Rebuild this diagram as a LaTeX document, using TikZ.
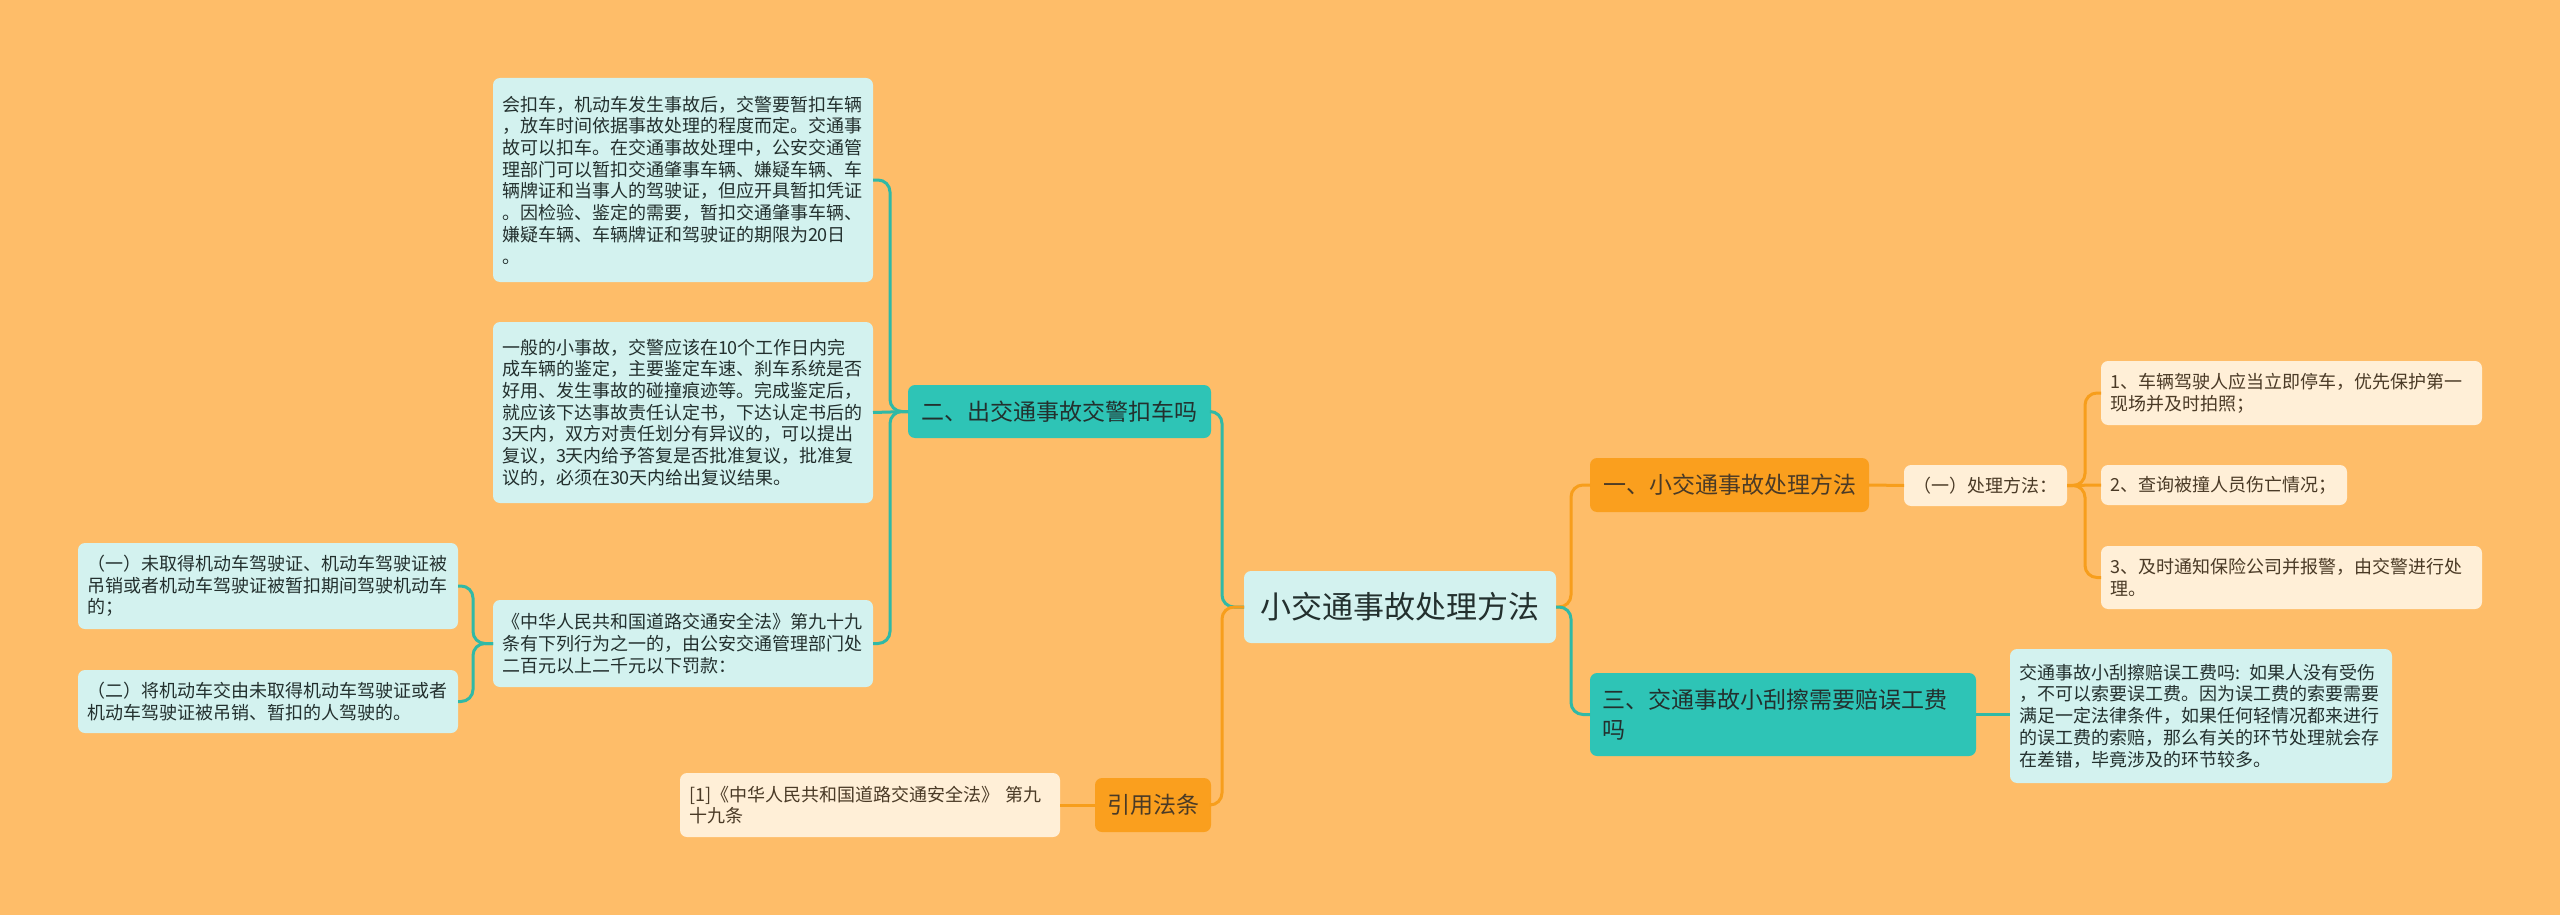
\documentclass[tikz,border=0pt]{standalone}
\usepackage{fontspec}
\setmainfont{Noto Sans CJK SC}
\definecolor{bg}{HTML}{FEBD69}
\definecolor{tealfill}{HTML}{2EC4B6}
\definecolor{orangefill}{HTML}{FA9F1E}
\definecolor{cyanbox}{HTML}{D3F2EF}
\definecolor{creambox}{HTML}{FFEFD7}
\definecolor{tealline}{HTML}{30B9A6}
\definecolor{orangeline}{HTML}{F79E1C}
\definecolor{darktxt}{HTML}{23302E}
\definecolor{browntxt}{HTML}{4A3A26}
\tikzset{
  boxbase/.style={rounded corners=7pt, inner ysep=2pt, outer sep=0pt},
  cbox/.style={boxbase, fill=cyanbox, text=darktxt, font=\fontsize{18}{21.7}\selectfont, align=left, inner xsep=9pt},
  obox/.style={boxbase, fill=creambox, text=browntxt, font=\fontsize{18}{21.7}\selectfont, align=left, inner xsep=9pt},
  tealnode/.style={boxbase, fill=tealfill, text=darktxt, font=\fontsize{23}{30}\selectfont},
  orangenode/.style={boxbase, fill=orangefill, text=browntxt, font=\fontsize{23}{30}\selectfont},
  tline/.style={draw=tealline, line width=3pt, rounded corners=12pt},
  oline/.style={draw=orangeline, line width=3pt, rounded corners=12pt},
}
\begin{document}
\begin{tikzpicture}[x=1pt,y=-1pt]
\useasboundingbox[fill=bg] (0,0) rectangle (2560,915);

% nodes
\node[boxbase, fill=cyanbox, text=darktxt, font=\fontsize{31}{36}\selectfont, minimum width=312pt, minimum height=72pt] (center) at (1400,607) {小交通事故处理方法};

\node[tealnode, minimum width=303pt, minimum height=53pt] (n2) at (1059.5,411.5) {二、出交通事故交警扣车吗};

\node[cbox, text width=362pt, minimum height=204pt] (b1) at (683,180) {会扣车，机动车发生事故后，交警要暂扣车辆\\，放车时间依据事故处理的程度而定。交通事\\故可以扣车。在交通事故处理中，公安交通管\\理部门可以暂扣交通肇事车辆、嫌疑车辆、车\\辆牌证和当事人的驾驶证，但应开具暂扣凭证\\。因检验、鉴定的需要，暂扣交通肇事车辆、\\嫌疑车辆、车辆牌证和驾驶证的期限为20日\\。};

\node[cbox, text width=362pt, minimum height=181pt] (b2) at (683,412.5) {一般的小事故，交警应该在10个工作日内完\\成车辆的鉴定，主要鉴定车速、刹车系统是否\\好用、发生事故的碰撞痕迹等。完成鉴定后，\\就应该下达事故责任认定书，下达认定书后的\\3天内，双方对责任划分有异议的，可以提出\\复议，3天内给予答复是否批准复议，批准复\\议的，必须在30天内给出复议结果。};

\node[cbox, text width=362pt, minimum height=87pt] (b3) at (683,643.5) {《中华人民共和国道路交通安全法》第九十九\\条有下列行为之一的，由公安交通管理部门处\\二百元以上二千元以下罚款：};

\node[cbox, text width=362pt, minimum height=86pt] (s1) at (268,586) {（一）未取得机动车驾驶证、机动车驾驶证被\\吊销或者机动车驾驶证被暂扣期间驾驶机动车\\的；};

\node[cbox, text width=362pt, minimum height=63pt] (s2) at (268,701.5) {（二）将机动车交由未取得机动车驾驶证或者\\机动车驾驶证被吊销、暂扣的人驾驶的。};

\node[orangenode, minimum width=116pt, minimum height=54pt] (ref) at (1153,805) {引用法条};

\node[obox, text width=362pt, minimum height=64pt] (cite) at (870,805) {[1]《中华人民共和国道路交通安全法》~第九\\十九条};

\node[orangenode, minimum width=279pt, minimum height=54pt] (n1) at (1729.5,485) {一、小交通事故处理方法};

\node[obox, text width=145pt, minimum height=41pt] (m) at (1985.5,485.5) {（一）处理方法：};

\node[obox, text width=363pt, minimum height=64pt] (i1) at (2291.5,393) {1、车辆驾驶人应当立即停车，优先保护第一\\现场并及时拍照；};

\node[obox, text width=228pt, minimum height=40pt] (i2) at (2224,485) {2、查询被撞人员伤亡情况；};

\node[obox, text width=363pt, minimum height=63pt] (i3) at (2291.5,577.5) {3、及时通知保险公司并报警，由交警进行处\\理。};

\node[tealnode, align=left, inner xsep=12pt, text width=362pt, minimum height=83pt] (n3) at (1783,714.5) {三、交通事故小刮擦需要赔误工费\\吗};

\node[cbox, text width=364pt, minimum height=134pt] (t3) at (2201,716) {交通事故小刮擦赔误工费吗: 如果人没有受伤\\，不可以索要误工费。因为误工费的索要需要\\满足一定法律条件，如果任何轻情况都来进行\\的误工费的索赔，那么有关的环节处理就会存\\在差错，毕竟涉及的环节较多。};

% connectors
\draw[tline] (center.west) -- ++(-22,0) |- (n2.east);
\draw[oline] (center.west) -- ++(-22,0) |- (ref.east);
\draw[oline] (center.east) -- ++(15,0) |- (n1.west);
\draw[tline] (center.east) -- ++(15,0) |- (n3.west);
\draw[oline] (n1.east) -- (m.west);
\draw[oline] (m.east) -- ++(18,0) |- (i1.west);
\draw[oline] (m.east) -- (i2.west);
\draw[oline] (m.east) -- ++(18,0) |- (i3.west);
\draw[tline] (n3.east) -- (t3.west |- n3.east);
\draw[tline] (n2.west) -- ++(-18,0) |- (b1.east);
\draw[tline] (n2.west) -- (b2.east);
\draw[tline] (n2.west) -- ++(-18,0) |- (b3.east);
\draw[tline] (b3.west) -- ++(-20,0) |- (s1.east);
\draw[tline] (b3.west) -- ++(-20,0) |- (s2.east);
\draw[oline] (ref.west) -- (cite.east);
\end{tikzpicture}
\end{document}
